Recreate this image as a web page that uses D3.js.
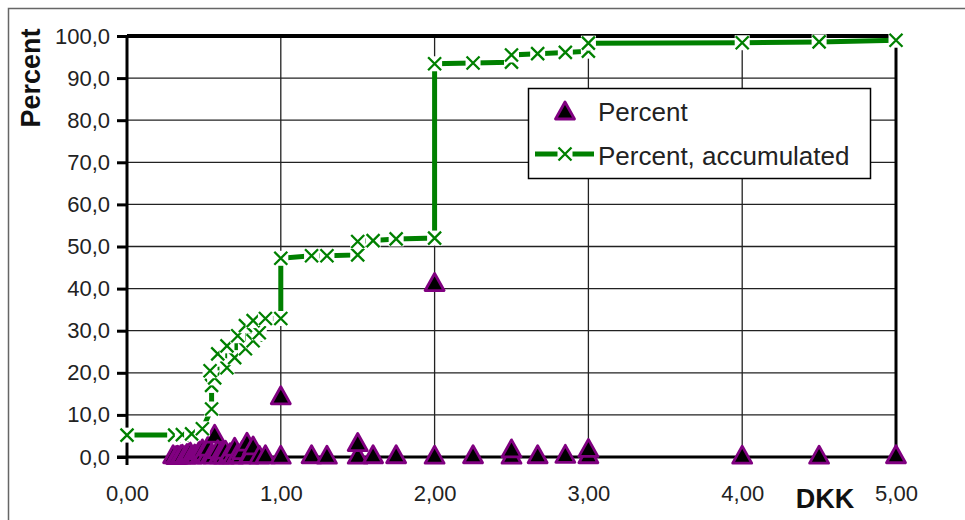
<!DOCTYPE html>
<html>
<head>
<meta charset="utf-8">
<script src="https://cdn.jsdelivr.net/npm/d3@7"></script>
<style>
  body { margin: 0; background: #fff; }
  svg { display: block; font-family: Arial, "Liberation Sans", sans-serif; }
  .tick text { fill: #222; font-size: 22px; }
</style>
</head>
<body>
<div class="chart"></div>
<script>
"use strict";

// Percent per price (DKK)
let percentX = [0.30, 0.32, 0.33, 0.35, 0.36, 0.38, 0.39, 0.41, 0.42, 0.44, 0.45, 0.47, 0.48, 0.49, 0.50, 0.52,
                0.53, 0.55, 0.56, 0.57, 0.59, 0.60, 0.62, 0.63, 0.64, 0.66, 0.67, 0.69, 0.70, 0.72, 0.74, 0.75,
                0.78, 0.79, 0.80, 0.82, 0.86, 0.90, 1.00, 1.00, 1.20, 1.30, 1.50, 1.50, 1.60, 1.75,
                2.00, 2.00, 2.25, 2.50, 2.50, 2.67, 2.85, 3.00, 3.00, 4.00, 4.50, 5.00];
let percentY = [0.3, 0.1, 0.2, 0.3, 0.4, 0.2, 0.6, 1.0, 0.2, 0.5, 0.3, 1.2, 0.4, 1.7, 0.9, 0.3,
                2.1, 0.6, 0.2, 5.2, 1.5, 0.3, 1.0, 0.2, 1.4, 0.3, 0.8, 0.2, 2.1, 0.6, 0.3, 1.3,
                3.3, 0.2, 0.4, 2.4, 0.2, 0.3, 0.2, 14.3, 0.3, 0.2, 0.2, 3.2, 0.3, 0.3,
                0.2, 41.2, 0.3, 0.2, 1.7, 0.3, 0.4, 0.3, 1.8, 0.2, 0.2, 0.3];

// Percent, accumulated
let accX = [0.00, 0.31, 0.36, 0.42, 0.49, 0.55, 0.55, 0.57, 0.54, 0.65, 0.70, 0.59, 0.77, 0.65, 0.82, 0.72,
            0.86, 0.77, 0.82, 0.90, 1.00, 1.00, 1.20, 1.30, 1.50, 1.50, 1.60, 1.75, 2.00, 2.00, 2.25, 2.50,
            2.50, 2.67, 2.85, 3.00, 3.00, 4.00, 4.50, 5.00];
let accY = [5.2, 5.2, 5.3, 5.5, 6.7, 11.4, 17.0, 18.8, 20.5, 21.2, 23.6, 24.5, 25.7, 26.4, 27.6, 28.8,
            29.5, 31.2, 32.4, 32.9, 32.9, 47.2, 47.8, 47.8, 48.0, 51.2, 51.4, 51.8, 52.0, 93.4, 93.6, 93.8,
            95.5, 95.8, 96.1, 96.4, 98.3, 98.4, 98.6, 99.0];

let xTicks = [0, 1, 2, 3, 4, 5];
let yTicks = [0, 10, 20, 30, 40, 50, 60, 70, 80, 90, 100];
let seriesNames = ["Percent", "Percent, accumulated"];

// Plot Appearance Settings
let width = 965, height = 520;
let plot = {left: 127, right: 896, top: 36, bottom: 457};
let green = "#008000";
let purple = "#800080";

let locale = d3.formatLocale({decimal: ",", thousands: ".", grouping: [3], currency: ["", ""]});
let fmt_x = locale.format(".2f");
let fmt_y = locale.format(".1f");

let x_scale = d3.scaleLinear().domain([0, 5]).range([plot.left, plot.right]);
let y_scale = d3.scaleLinear().domain([0, 100]).range([plot.bottom, plot.top]);

let svg = d3.select(".chart").append("svg")
    .attr("width", width)
    .attr("height", height);

// outer frame (runs off the bottom/right edge)
svg.append("rect")
    .attr("x", 8.5).attr("y", 8.5)
    .attr("width", 980).attr("height", 540)
    .attr("fill", "none").attr("stroke", "#666").attr("stroke-width", 1.5);

// grid
svg.append("g").selectAll("line").data(yTicks.slice(1, -1)).enter().append("line")
    .attr("x1", plot.left).attr("x2", plot.right)
    .attr("y1", d => y_scale(d)).attr("y2", d => y_scale(d))
    .attr("stroke", "#222").attr("stroke-width", 1.3);
svg.append("g").selectAll("line").data(xTicks.slice(1, -1)).enter().append("line")
    .attr("x1", d => x_scale(d)).attr("x2", d => x_scale(d))
    .attr("y1", plot.top).attr("y2", plot.bottom)
    .attr("stroke", "#222").attr("stroke-width", 1.3);

// axes
let y_axis = svg.append("g")
    .attr("transform", "translate(" + plot.left + ",0)")
    .call(d3.axisLeft(y_scale).tickValues(yTicks).tickSize(10).tickPadding(7).tickFormat(fmt_y));
y_axis.select(".domain").remove();
y_axis.selectAll(".tick line").attr("stroke", "#000").attr("stroke-width", 3);

let x_axis = svg.append("g")
    .attr("transform", "translate(0," + plot.bottom + ")")
    .call(d3.axisBottom(x_scale).tickValues(xTicks).tickSize(0).tickPadding(28).tickFormat(fmt_x));
x_axis.select(".domain").remove();

// frame lines of the plot area
svg.append("line").attr("x1", plot.left).attr("x2", plot.right)
    .attr("y1", plot.top).attr("y2", plot.top).attr("stroke", "#000").attr("stroke-width", 4);
svg.append("line").attr("x1", plot.right).attr("x2", plot.right)
    .attr("y1", plot.top).attr("y2", plot.bottom).attr("stroke", "#000").attr("stroke-width", 3);
svg.append("line").attr("x1", plot.left - 10).attr("x2", plot.right)
    .attr("y1", plot.bottom).attr("y2", plot.bottom).attr("stroke", "#000").attr("stroke-width", 3);
svg.append("line").attr("x1", plot.left).attr("x2", plot.left)
    .attr("y1", plot.top).attr("y2", plot.bottom + 8).attr("stroke", "#000").attr("stroke-width", 3);

// axis titles
svg.append("text")
    .attr("transform", "translate(40,78) rotate(-90)")
    .attr("text-anchor", "middle")
    .attr("font-size", 27).attr("font-weight", "bold").attr("fill", "#111")
    .text("Percent");
svg.append("text")
    .attr("x", 825).attr("y", 508)
    .attr("text-anchor", "middle")
    .attr("font-size", 27).attr("font-weight", "bold").attr("fill", "#111")
    .text("DKK");

// markers
let tri_path = "M0,-10L9.5,7L-9.5,7Z";
function draw_triangle(g, cx, cy) {
    g.append("path")
        .attr("d", tri_path)
        .attr("transform", "translate(" + cx + "," + cy + ")")
        .attr("fill", "#000").attr("stroke", purple).attr("stroke-width", 2.8)
        .attr("stroke-linejoin", "round");
}
function draw_cross(g, cx, cy) {
    let m = g.append("g").attr("transform", "translate(" + cx + "," + cy + ")");
    m.append("rect").attr("x", -7.5).attr("y", -7.5).attr("width", 15).attr("height", 15).attr("fill", "#fff");
    m.append("path").attr("d", "M-6.5,-6.5L6.5,6.5M6.5,-6.5L-6.5,6.5")
        .attr("stroke", green).attr("stroke-width", 2.3).attr("fill", "none");
}

// Percent series
let percent_data = percentX.map((d, i) => ({x: d, y: percentY[i]}));
let g_pct = svg.append("g");
percent_data.forEach(d => draw_triangle(g_pct, x_scale(d.x), y_scale(d.y)));

// accumulated series
let acc_data = accX.map((d, i) => ({x: d, y: accY[i]}));
let line = d3.line().x(d => x_scale(d.x)).y(d => y_scale(d.y));
svg.append("path")
    .datum(acc_data)
    .attr("d", line)
    .attr("fill", "none").attr("stroke", green).attr("stroke-width", 5);
let g_acc = svg.append("g");
acc_data.forEach(d => draw_cross(g_acc, x_scale(d.x), y_scale(d.y)));

// legend
let legend = svg.append("g");
legend.append("rect")
    .attr("x", 528.5).attr("y", 88.5).attr("width", 342).attr("height", 90)
    .attr("fill", "#fff").attr("stroke", "#000").attr("stroke-width", 1.5);
draw_triangle(legend, 565, 112);
legend.append("line").attr("x1", 535).attr("x2", 594).attr("y1", 154).attr("y2", 154)
    .attr("stroke", green).attr("stroke-width", 5);
draw_cross(legend, 565, 154);
legend.selectAll("text.lbl").data(seriesNames).enter().append("text")
    .attr("class", "lbl")
    .attr("x", 598).attr("y", (d, i) => 121 + i * 44)
    .attr("font-size", 26).attr("fill", "#222")
    .text(d => d);
</script>
</body>
</html>
